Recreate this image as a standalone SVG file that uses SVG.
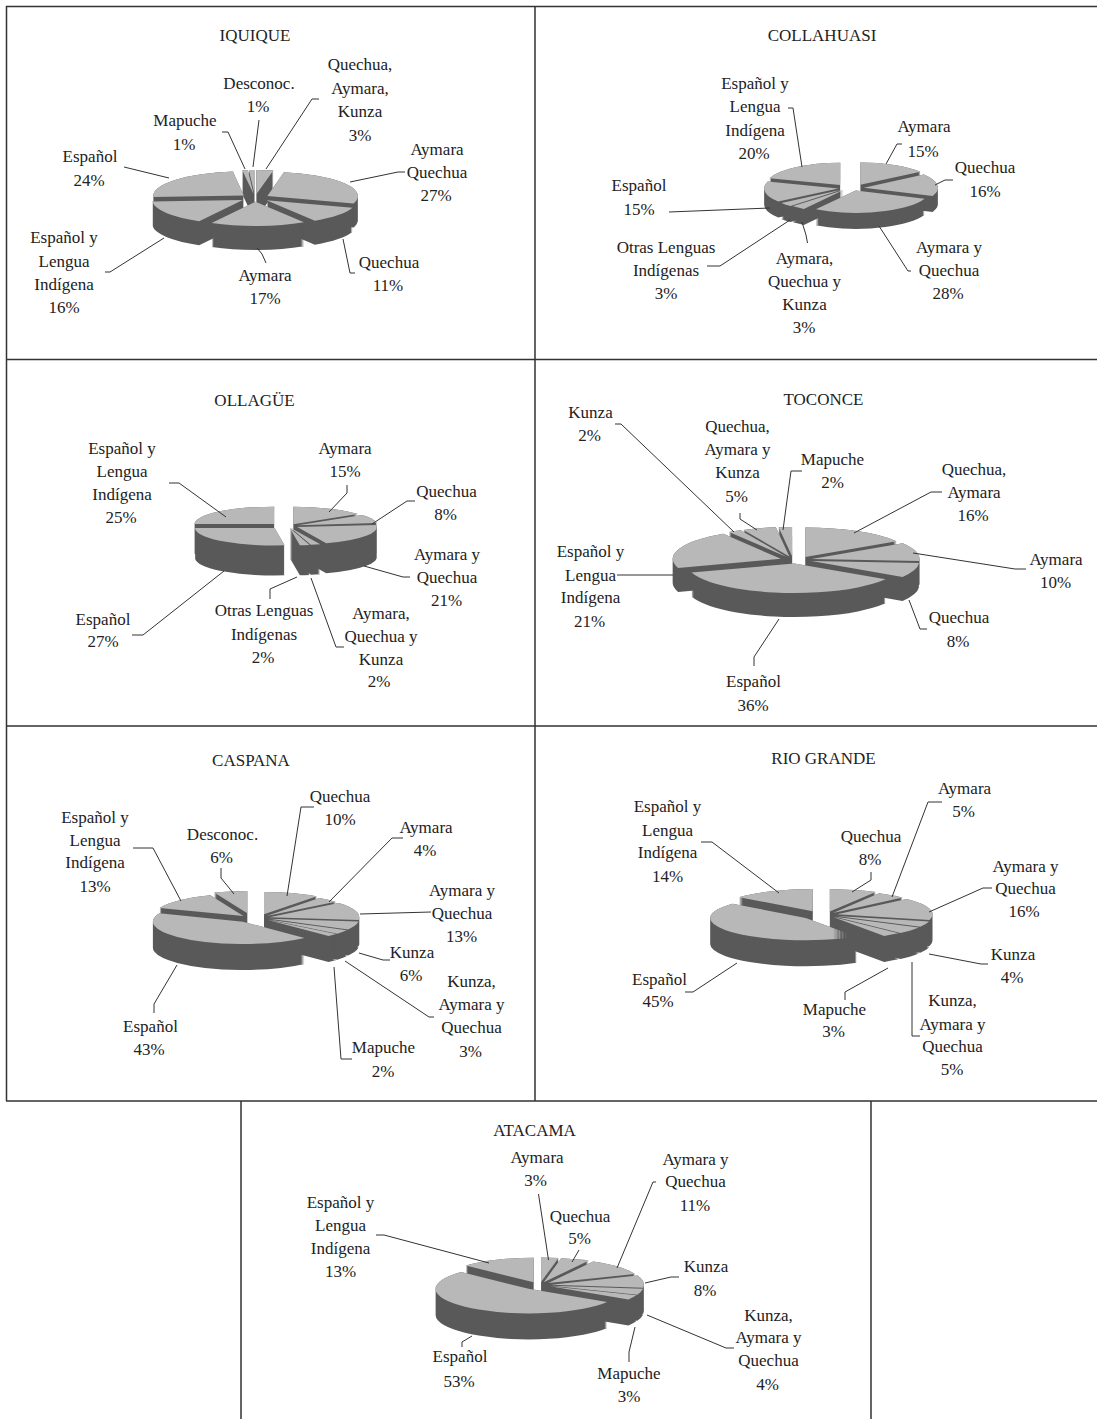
<svg xmlns="http://www.w3.org/2000/svg" width="1097" height="1419" viewBox="0 0 1097 1419">
<style>
.fr{stroke:#333;stroke-width:1.5;fill:none}
.ld{stroke:#333;stroke-width:1;fill:none}
text{font-family:"Liberation Serif","Times New Roman",serif;font-size:17px;fill:#222;text-anchor:middle}
.t{fill:none;stroke:#b8b8b8;stroke-width:100}
</style>
<defs>
<filter id="fA" filterUnits="userSpaceOnUse" x="0" y="0" width="1097" height="1419" color-interpolation-filters="sRGB">
<feMorphology in="SourceAlpha" operator="dilate" radius="0.01 12" result="m"/>
<feOffset in="m" dy="12" result="o"/>
<feFlood flood-color="#595959" result="c"/>
<feComposite in="c" in2="o" operator="in" result="b"/>
<feMerge><feMergeNode in="b"/><feMergeNode in="SourceGraphic"/></feMerge>
</filter>
<filter id="fB" filterUnits="userSpaceOnUse" x="0" y="0" width="1097" height="1419" color-interpolation-filters="sRGB">
<feMorphology in="SourceAlpha" operator="dilate" radius="0.01 7.5" result="m"/>
<feOffset in="m" dy="7.5" result="o"/>
<feFlood flood-color="#595959" result="c"/>
<feComposite in="c" in2="o" operator="in" result="b"/>
<feMerge><feMergeNode in="b"/><feMergeNode in="SourceGraphic"/></feMerge>
</filter>
<filter id="fC" filterUnits="userSpaceOnUse" x="0" y="0" width="1097" height="1419" color-interpolation-filters="sRGB">
<feMorphology in="SourceAlpha" operator="dilate" radius="0.01 15" result="m"/>
<feOffset in="m" dy="15" result="o"/>
<feFlood flood-color="#595959" result="c"/>
<feComposite in="c" in2="o" operator="in" result="b"/>
<feMerge><feMergeNode in="b"/><feMergeNode in="SourceGraphic"/></feMerge>
</filter>
<filter id="fD" filterUnits="userSpaceOnUse" x="0" y="0" width="1097" height="1419" color-interpolation-filters="sRGB">
<feMorphology in="SourceAlpha" operator="dilate" radius="0.01 12.5" result="m"/>
<feOffset in="m" dy="12.5" result="o"/>
<feFlood flood-color="#595959" result="c"/>
<feComposite in="c" in2="o" operator="in" result="b"/>
<feMerge><feMergeNode in="b"/><feMergeNode in="SourceGraphic"/></feMerge>
</filter>
</defs>
<rect width="1097" height="1419" fill="#fff"/>
<g id="frame">
<path class="fr" d="M6 6.5H1097M6.5 6V1101M6 359.5H1097M6 726H1097M6 1101H1097M535 6V1101M241 1101V1419M871 1101V1419"/>
</g>

<g id="iquique">
<text x="255" y="40.5">IQUIQUE</text>
<g filter="url(#fA)"><circle class="t" r="50" stroke-dasharray="3.14 400" transform="translate(255 198) scale(0.905 0.241) rotate(268.2) translate(16 0) rotate(-1.8)"/></g>
<g filter="url(#fA)"><circle class="t" r="50" stroke-dasharray="3.14 400" transform="translate(255 198) scale(0.905 0.241) rotate(264.6) translate(16 0) rotate(-1.8)"/></g>
<g filter="url(#fA)"><circle class="t" r="50" stroke-dasharray="9.42 400" transform="translate(255 198) scale(0.905 0.241) rotate(-84.6) translate(16 0) rotate(-5.4)"/></g>
<g filter="url(#fA)"><circle class="t" r="50" stroke-dasharray="75.4 400" transform="translate(255 198) scale(0.905 0.241) rotate(219.6) translate(16 0) rotate(-43.2)"/></g>
<g filter="url(#fA)"><circle class="t" r="50" stroke-dasharray="84.82 400" transform="translate(255 198) scale(0.905 0.241) rotate(-30.9) translate(16 0) rotate(-48.6)"/></g>
<g filter="url(#fA)"><circle class="t" r="50" stroke-dasharray="50.27 400" transform="translate(255 198) scale(0.905 0.241) rotate(147.6) translate(16 0) rotate(-28.8)"/></g>
<g filter="url(#fA)"><circle class="t" r="50" stroke-dasharray="34.56 400" transform="translate(255 198) scale(0.905 0.241) rotate(37.8) translate(16 0) rotate(-19.8)"/></g>
<g filter="url(#fA)"><circle class="t" r="50" stroke-dasharray="53.41 400" transform="translate(255 198) scale(0.905 0.241) rotate(88.2) translate(16 0) rotate(-30.6)"/></g>
<text><tspan x="360" y="70">Quechua,</tspan><tspan x="360" y="93.5">Aymara,</tspan><tspan x="360" y="117">Kunza</tspan><tspan x="360" y="140.5">3%</tspan></text>
<text><tspan x="259" y="89">Desconoc.</tspan><tspan x="258" y="112">1%</tspan></text>
<text><tspan x="185" y="126">Mapuche</tspan><tspan x="184" y="149.5">1%</tspan></text>
<text><tspan x="90" y="162">Español</tspan><tspan x="89" y="185.5">24%</tspan></text>
<text><tspan x="437" y="154.5">Aymara</tspan><tspan x="437" y="177.5">Quechua</tspan><tspan x="436" y="200.5">27%</tspan></text>
<text><tspan x="64" y="243">Español y</tspan><tspan x="64" y="266.5">Lengua</tspan><tspan x="64" y="289.5">Indígena</tspan><tspan x="64" y="312.5">16%</tspan></text>
<text><tspan x="265" y="280.5">Aymara</tspan><tspan x="265" y="303.5">17%</tspan></text>
<text><tspan x="389" y="267.5">Quechua</tspan><tspan x="388" y="290.5">11%</tspan></text>
</g>

<g id="collahuasi">
<text x="822" y="40.5">COLLAHUASI</text>
<g filter="url(#fB)"><circle class="t" r="50" stroke-dasharray="47.12 400" transform="translate(855 188) scale(0.741 0.223) rotate(-63) translate(16 0) rotate(-27)"/></g>
<g filter="url(#fB)"><circle class="t" r="50" stroke-dasharray="62.83 400" transform="translate(847 188) scale(0.741 0.223) rotate(234) translate(16 0) rotate(-36)"/></g>
<g filter="url(#fB)"><circle class="t" r="50" stroke-dasharray="50.27 400" transform="translate(855 188) scale(0.741 0.223) rotate(-7.2) translate(12 0) rotate(-28.8)"/></g>
<g filter="url(#fB)"><circle class="t" r="50" stroke-dasharray="47.12 400" transform="translate(847 188) scale(0.741 0.223) rotate(171) translate(12 0) rotate(-27)"/></g>
<g filter="url(#fB)"><circle class="t" r="50" stroke-dasharray="9.42 400" transform="translate(848 188) scale(0.741 0.223) rotate(138.6) translate(12 0) rotate(-5.4)"/></g>
<g filter="url(#fB)"><circle class="t" r="50" stroke-dasharray="9.42 400" transform="translate(849 188) scale(0.741 0.223) rotate(127.8) translate(12 0) rotate(-5.4)"/></g>
<g filter="url(#fB)"><circle class="t" r="50" stroke-dasharray="87.96 400" transform="translate(853 188) scale(0.741 0.223) rotate(72) translate(12 0) rotate(-50.4)"/></g>
<text><tspan x="755" y="89">Español y</tspan><tspan x="755" y="112">Lengua</tspan><tspan x="755" y="135.5">Indígena</tspan><tspan x="754" y="159">20%</tspan></text>
<text><tspan x="924" y="132">Aymara</tspan><tspan x="923" y="156.5">15%</tspan></text>
<text><tspan x="985" y="173">Quechua</tspan><tspan x="985" y="196.5">16%</tspan></text>
<text><tspan x="639" y="191">Español</tspan><tspan x="639" y="214.5">15%</tspan></text>
<text><tspan x="666" y="253">Otras Lenguas</tspan><tspan x="666" y="276">Indígenas</tspan><tspan x="666" y="299">3%</tspan></text>
<text><tspan x="804.5" y="264">Aymara,</tspan><tspan x="804.5" y="287">Quechua y</tspan><tspan x="804.5" y="310">Kunza</tspan><tspan x="804" y="333">3%</tspan></text>
<text><tspan x="949" y="253">Aymara y</tspan><tspan x="949" y="276">Quechua</tspan><tspan x="948" y="299">28%</tspan></text>
</g>

<g id="ollague">
<text x="254.5" y="405.5">OLLAGÜE</text>
<g filter="url(#fC)"><circle class="t" r="50" stroke-dasharray="47.12 400" transform="translate(289 526) scale(0.795 0.174) rotate(-63) translate(12 0) rotate(-27)"/></g>
<g filter="url(#fC)"><circle class="t" r="50" stroke-dasharray="78.54 400" transform="translate(283 526) scale(0.795 0.174) rotate(225) translate(16 0) rotate(-45)"/></g>
<g filter="url(#fC)"><circle class="t" r="50" stroke-dasharray="25.13 400" transform="translate(289 526) scale(0.795 0.174) rotate(-21.6) translate(12 0) rotate(-14.4)"/></g>
<g filter="url(#fC)"><circle class="t" r="50" stroke-dasharray="65.97 400" transform="translate(289 526) scale(0.795 0.174) rotate(30.6) translate(12 0) rotate(-37.8)"/></g>
<g filter="url(#fC)"><circle class="t" r="50" stroke-dasharray="84.82 400" transform="translate(283 526) scale(0.795 0.174) rotate(131.4) translate(16 0) rotate(-48.6)"/></g>
<g filter="url(#fC)"><circle class="t" r="50" stroke-dasharray="6.28 400" transform="translate(288 526) scale(0.795 0.174) rotate(72) translate(12 0) rotate(-3.6)"/></g>
<g filter="url(#fC)"><circle class="t" r="50" stroke-dasharray="6.28 400" transform="translate(288 526) scale(0.795 0.174) rotate(79.2) translate(12 0) rotate(-3.6)"/></g>
<text><tspan x="122" y="454">Español y</tspan><tspan x="122" y="477">Lengua</tspan><tspan x="122" y="500">Indígena</tspan><tspan x="121" y="522.5">25%</tspan></text>
<text><tspan x="345" y="454">Aymara</tspan><tspan x="345" y="477">15%</tspan></text>
<text><tspan x="446.5" y="496.5">Quechua</tspan><tspan x="445.5" y="520">8%</tspan></text>
<text><tspan x="447" y="559.5">Aymara y</tspan><tspan x="447" y="583">Quechua</tspan><tspan x="446.5" y="606">21%</tspan></text>
<text><tspan x="103" y="624.5">Español</tspan><tspan x="103" y="647">27%</tspan></text>
<text><tspan x="264" y="616">Otras Lenguas</tspan><tspan x="264" y="639.5">Indígenas</tspan><tspan x="263" y="663">2%</tspan></text>
<text><tspan x="381" y="619">Aymara,</tspan><tspan x="381" y="641.5">Quechua y</tspan><tspan x="381" y="664.5">Kunza</tspan><tspan x="379" y="687">2%</tspan></text>
</g>

<g id="toconce">
<text x="823.5" y="404.5">TOCONCE</text>
<g filter="url(#fA)"><circle class="t" r="50" stroke-dasharray="6.28 400" transform="translate(793 560) scale(1.08 0.295) rotate(266.4) translate(12 0) rotate(-3.6)"/></g>
<g filter="url(#fA)"><circle class="t" r="50" stroke-dasharray="15.71 400" transform="translate(793 560) scale(1.08 0.295) rotate(253.8) translate(12 0) rotate(-9)"/></g>
<g filter="url(#fA)"><circle class="t" r="50" stroke-dasharray="50.27 400" transform="translate(799 560) scale(1.08 0.295) rotate(-61.2) translate(12 0) rotate(-28.8)"/></g>
<g filter="url(#fA)"><circle class="t" r="50" stroke-dasharray="6.28 400" transform="translate(793 560) scale(1.08 0.295) rotate(241.2) translate(12 0) rotate(-3.6)"/></g>
<g filter="url(#fA)"><circle class="t" r="50" stroke-dasharray="65.97 400" transform="translate(793 560) scale(1.08 0.295) rotate(199.8) translate(12 0) rotate(-37.8)"/></g>
<g filter="url(#fA)"><circle class="t" r="50" stroke-dasharray="31.42 400" transform="translate(799 560) scale(1.08 0.295) rotate(-14.4) translate(12 0) rotate(-18)"/></g>
<g filter="url(#fA)"><circle class="t" r="50" stroke-dasharray="25.13 400" transform="translate(799 560) scale(1.08 0.295) rotate(18) translate(12 0) rotate(-14.4)"/></g>
<g filter="url(#fA)"><circle class="t" r="50" stroke-dasharray="113.1 400" transform="translate(796 560) scale(1.08 0.295) rotate(97.2) translate(12 0) rotate(-64.8)"/></g>
<text><tspan x="590.5" y="418">Kunza</tspan><tspan x="589.5" y="440.5">2%</tspan></text>
<text><tspan x="737.5" y="432">Quechua,</tspan><tspan x="737.5" y="455">Aymara y</tspan><tspan x="737.5" y="478">Kunza</tspan><tspan x="736.5" y="501.5">5%</tspan></text>
<text><tspan x="832.5" y="465">Mapuche</tspan><tspan x="832.5" y="488">2%</tspan></text>
<text><tspan x="974" y="475">Quechua,</tspan><tspan x="974" y="498">Aymara</tspan><tspan x="973" y="520.5">16%</tspan></text>
<text><tspan x="1056" y="565">Aymara</tspan><tspan x="1055.5" y="588">10%</tspan></text>
<text><tspan x="590.5" y="556.5">Español y</tspan><tspan x="590.5" y="580.5">Lengua</tspan><tspan x="590.5" y="603">Indígena</tspan><tspan x="589.5" y="626.5">21%</tspan></text>
<text><tspan x="959" y="623">Quechua</tspan><tspan x="958" y="646.5">8%</tspan></text>
<text><tspan x="753.5" y="687">Español</tspan><tspan x="753" y="710.5">36%</tspan></text>
</g>

<g id="caspana">
<text x="251" y="766">CASPANA</text>
<g filter="url(#fD)"><circle class="t" r="50" stroke-dasharray="18.85 400" transform="translate(251 918) scale(0.9 0.223) rotate(259.2) translate(22 0) rotate(-10.8)"/></g>
<g filter="url(#fD)"><circle class="t" r="50" stroke-dasharray="31.42 400" transform="translate(259 918) scale(0.9 0.223) rotate(-72) translate(18 0) rotate(-18)"/></g>
<g filter="url(#fD)"><circle class="t" r="50" stroke-dasharray="12.57 400" transform="translate(259 918) scale(0.9 0.223) rotate(-46.8) translate(12 0) rotate(-7.2)"/></g>
<g filter="url(#fD)"><circle class="t" r="50" stroke-dasharray="40.84 400" transform="translate(251 918) scale(0.9 0.223) rotate(225) translate(12 0) rotate(-23.4)"/></g>
<g filter="url(#fD)"><circle class="t" r="50" stroke-dasharray="40.84 400" transform="translate(259 918) scale(0.9 0.223) rotate(-16.2) translate(12 0) rotate(-23.4)"/></g>
<g filter="url(#fD)"><circle class="t" r="50" stroke-dasharray="18.85 400" transform="translate(259 918) scale(0.9 0.223) rotate(18) translate(12 0) rotate(-10.8)"/></g>
<g filter="url(#fD)"><circle class="t" r="50" stroke-dasharray="9.42 400" transform="translate(259 918) scale(0.9 0.223) rotate(34.2) translate(12 0) rotate(-5.4)"/></g>
<g filter="url(#fD)"><circle class="t" r="50" stroke-dasharray="6.28 400" transform="translate(259 918) scale(0.9 0.223) rotate(43.2) translate(12 0) rotate(-3.6)"/></g>
<g filter="url(#fD)"><circle class="t" r="50" stroke-dasharray="135.09 400" transform="translate(253 918) scale(0.9 0.223) rotate(124.2) translate(20 0) rotate(-77.4)"/></g>
<text><tspan x="340" y="801.5">Quechua</tspan><tspan x="340" y="825">10%</tspan></text>
<text><tspan x="95" y="823">Español y</tspan><tspan x="95" y="845.5">Lengua</tspan><tspan x="95" y="868">Indígena</tspan><tspan x="95" y="891.5">13%</tspan></text>
<text><tspan x="222.5" y="839.5">Desconoc.</tspan><tspan x="221.5" y="863">6%</tspan></text>
<text><tspan x="426" y="833">Aymara</tspan><tspan x="425" y="856">4%</tspan></text>
<text><tspan x="462" y="896">Aymara y</tspan><tspan x="462" y="919">Quechua</tspan><tspan x="461.5" y="941.5">13%</tspan></text>
<text><tspan x="412" y="958">Kunza</tspan><tspan x="411" y="981">6%</tspan></text>
<text><tspan x="471.5" y="986.5">Kunza,</tspan><tspan x="471.5" y="1010">Aymara y</tspan><tspan x="471.5" y="1033">Quechua</tspan><tspan x="470.5" y="1056.5">3%</tspan></text>
<text><tspan x="150.5" y="1031.5">Español</tspan><tspan x="149" y="1055">43%</tspan></text>
<text><tspan x="383.5" y="1053">Mapuche</tspan><tspan x="383" y="1076.5">2%</tspan></text>
</g>

<g id="riogrande">
<text x="823.5" y="764">RIO GRANDE</text>
<g filter="url(#fD)"><circle class="t" r="50" stroke-dasharray="25.13 400" transform="translate(826 915) scale(0.955 0.223) rotate(-75.6) translate(16 0) rotate(-14.4)"/></g>
<g filter="url(#fD)"><circle class="t" r="50" stroke-dasharray="43.98 400" transform="translate(820 915) scale(0.955 0.223) rotate(244.8) translate(18 0) rotate(-25.2)"/></g>
<g filter="url(#fD)"><circle class="t" r="50" stroke-dasharray="15.71 400" transform="translate(826 915) scale(0.955 0.223) rotate(-52.2) translate(12 0) rotate(-9)"/></g>
<g filter="url(#fD)"><circle class="t" r="50" stroke-dasharray="50.27 400" transform="translate(826 915) scale(0.955 0.223) rotate(-14.4) translate(12 0) rotate(-28.8)"/></g>
<g filter="url(#fD)"><circle class="t" r="50" stroke-dasharray="12.57 400" transform="translate(826 915) scale(0.955 0.223) rotate(21.6) translate(12 0) rotate(-7.2)"/></g>
<g filter="url(#fD)"><circle class="t" r="50" stroke-dasharray="15.71 400" transform="translate(826 915) scale(0.955 0.223) rotate(37.8) translate(12 0) rotate(-9)"/></g>
<g filter="url(#fD)"><circle class="t" r="50" stroke-dasharray="141.37 400" transform="translate(820 915) scale(0.955 0.223) rotate(138.6) translate(20 0) rotate(-81)"/></g>
<g filter="url(#fD)"><circle class="t" r="50" stroke-dasharray="9.42 400" transform="translate(826 915) scale(0.955 0.223) rotate(52.2) translate(12 0) rotate(-5.4)"/></g>
<text><tspan x="964.5" y="794">Aymara</tspan><tspan x="963.5" y="817">5%</tspan></text>
<text><tspan x="667.5" y="812">Español y</tspan><tspan x="667.5" y="835.5">Lengua</tspan><tspan x="667.5" y="858">Indígena</tspan><tspan x="667.5" y="881.5">14%</tspan></text>
<text><tspan x="871" y="841.5">Quechua</tspan><tspan x="870" y="864.5">8%</tspan></text>
<text><tspan x="1025.5" y="871.5">Aymara y</tspan><tspan x="1025.5" y="894">Quechua</tspan><tspan x="1024" y="917">16%</tspan></text>
<text><tspan x="1013" y="959.5">Kunza</tspan><tspan x="1012" y="983">4%</tspan></text>
<text><tspan x="659.5" y="984.5">Español</tspan><tspan x="658" y="1007">45%</tspan></text>
<text><tspan x="834.5" y="1014.5">Mapuche</tspan><tspan x="833.5" y="1037">3%</tspan></text>
<text><tspan x="952.5" y="1005.5">Kunza,</tspan><tspan x="952.5" y="1029.5">Aymara y</tspan><tspan x="952.5" y="1052">Quechua</tspan><tspan x="952" y="1075">5%</tspan></text>
</g>

<g id="atacama">
<text x="534.5" y="1135.5">ATACAMA</text>
<g filter="url(#fD)"><circle class="t" r="50" stroke-dasharray="9.42 400" transform="translate(540 1285) scale(0.93 0.245) rotate(-84.6) translate(12 0) rotate(-5.4)"/></g>
<g filter="url(#fD)"><circle class="t" r="50" stroke-dasharray="15.71 400" transform="translate(540 1285) scale(0.93 0.245) rotate(-70.2) translate(12 0) rotate(-9)"/></g>
<g filter="url(#fD)"><circle class="t" r="50" stroke-dasharray="40.84 400" transform="translate(538 1285) scale(0.93 0.245) rotate(246.6) translate(12 0) rotate(-23.4)"/></g>
<g filter="url(#fD)"><circle class="t" r="50" stroke-dasharray="34.56 400" transform="translate(540 1285) scale(0.93 0.245) rotate(-41.4) translate(12 0) rotate(-19.8)"/></g>
<g filter="url(#fD)"><circle class="t" r="50" stroke-dasharray="25.13 400" transform="translate(540 1285) scale(0.93 0.245) rotate(-7.2) translate(12 0) rotate(-14.4)"/></g>
<g filter="url(#fD)"><circle class="t" r="50" stroke-dasharray="12.57 400" transform="translate(540 1285) scale(0.93 0.245) rotate(14.4) translate(12 0) rotate(-7.2)"/></g>
<g filter="url(#fD)"><circle class="t" r="50" stroke-dasharray="9.42 400" transform="translate(540 1285) scale(0.93 0.245) rotate(27) translate(12 0) rotate(-5.4)"/></g>
<g filter="url(#fD)"><circle class="t" r="50" stroke-dasharray="166.5 400" transform="translate(540 1285) scale(0.93 0.245) rotate(127.8) translate(20 0) rotate(-95.4)"/></g>
<text><tspan x="537" y="1163">Aymara</tspan><tspan x="535.5" y="1185.5">3%</tspan></text>
<text><tspan x="695.5" y="1165">Aymara y</tspan><tspan x="695.5" y="1187">Quechua</tspan><tspan x="695" y="1210.5">11%</tspan></text>
<text><tspan x="340.5" y="1208">Español y</tspan><tspan x="340.5" y="1230.5">Lengua</tspan><tspan x="340.5" y="1254">Indígena</tspan><tspan x="340.5" y="1277">13%</tspan></text>
<text><tspan x="580" y="1221.5">Quechua</tspan><tspan x="579.5" y="1244">5%</tspan></text>
<text><tspan x="706" y="1272">Kunza</tspan><tspan x="705" y="1295.5">8%</tspan></text>
<text><tspan x="768.5" y="1320.5">Kunza,</tspan><tspan x="768.5" y="1343">Aymara y</tspan><tspan x="768.5" y="1366">Quechua</tspan><tspan x="767.5" y="1390">4%</tspan></text>
<text><tspan x="460" y="1362">Español</tspan><tspan x="459" y="1386.5">53%</tspan></text>
<text><tspan x="629" y="1379">Mapuche</tspan><tspan x="629" y="1402">3%</tspan></text>
</g>

<g id="connectors" class="ld">
<polyline points="222,132 228,132 245,169"/>
<polyline points="259,120 253,167"/>
<polyline points="319,99 312,99 266,169"/>
<polyline points="124,167 169,178"/>
<polyline points="405,172 398,172 350,182"/>
<polyline points="105,272 110,272 164,238"/>
<polyline points="266,263 262,254 257,248"/>
<polyline points="355,273 350,273 343,239"/>
<polyline points="788,108 793,108 802,167"/>
<polyline points="902,144 897,144 886,164"/>
<polyline points="953,180 945,180 935,185"/>
<polyline points="669,212 770,208"/>
<polyline points="707,266 720,266 790,220"/>
<polyline points="802,222 806,235 807.5,243"/>
<polyline points="911,271 908,271 879,226"/>
<polyline points="169,483 179,483 226,517"/>
<polyline points="347,485 347,493 329,512"/>
<polyline points="415,501 407,501 372,524"/>
<polyline points="410,577 403,577 364,566"/>
<polyline points="132,635 143,635 224,571"/>
<polyline points="270,599 270,589 297,577"/>
<polyline points="344,647 336,647 311,578"/>
<polyline points="615,424 621,424 734,532"/>
<polyline points="740,513 740,519 757,530"/>
<polyline points="802,471 791,471 783,530"/>
<polyline points="942,492 931,492 854,533"/>
<polyline points="1026,569 1015,569 913,553"/>
<polyline points="617,575 673,575"/>
<polyline points="927,629 920,629 909,600"/>
<polyline points="754,666 754,657 779,619"/>
<polyline points="133,848 153,848 181,901"/>
<polyline points="221,868 221,878 234,894"/>
<polyline points="314,807 301,807 287,896"/>
<polyline points="403,838 392,838 329,902"/>
<polyline points="431,912 360,914"/>
<polyline points="390,960 383,960 359,953"/>
<polyline points="434,1017 429,1017 345,961"/>
<polyline points="352,1059 341,1059 334,967"/>
<polyline points="154,1013 154,1004 177,965"/>
<polyline points="701,842 712,842 779,893"/>
<polyline points="871,872 871,880 852,892"/>
<polyline points="942,802 928,802 892,897"/>
<polyline points="992,888 983,888 929,912"/>
<polyline points="988,964 981,964 929,954"/>
<polyline points="920,1036 912,1036 912,962"/>
<polyline points="845,1000 845,992 888,968"/>
<polyline points="685,992 693,992 737,963"/>
<polyline points="376,1235 384,1235 489,1263"/>
<polyline points="538.5,1194 548.5,1260"/>
<polyline points="579,1250 572,1262"/>
<polyline points="656,1182 653,1182 617,1268"/>
<polyline points="679,1277 671,1277 645,1283"/>
<polyline points="734,1348 726,1348 647,1315"/>
<polyline points="629,1362 629,1352 635,1327"/>
<polyline points="462,1347 462,1342 472,1336"/>
</g>
</svg>
